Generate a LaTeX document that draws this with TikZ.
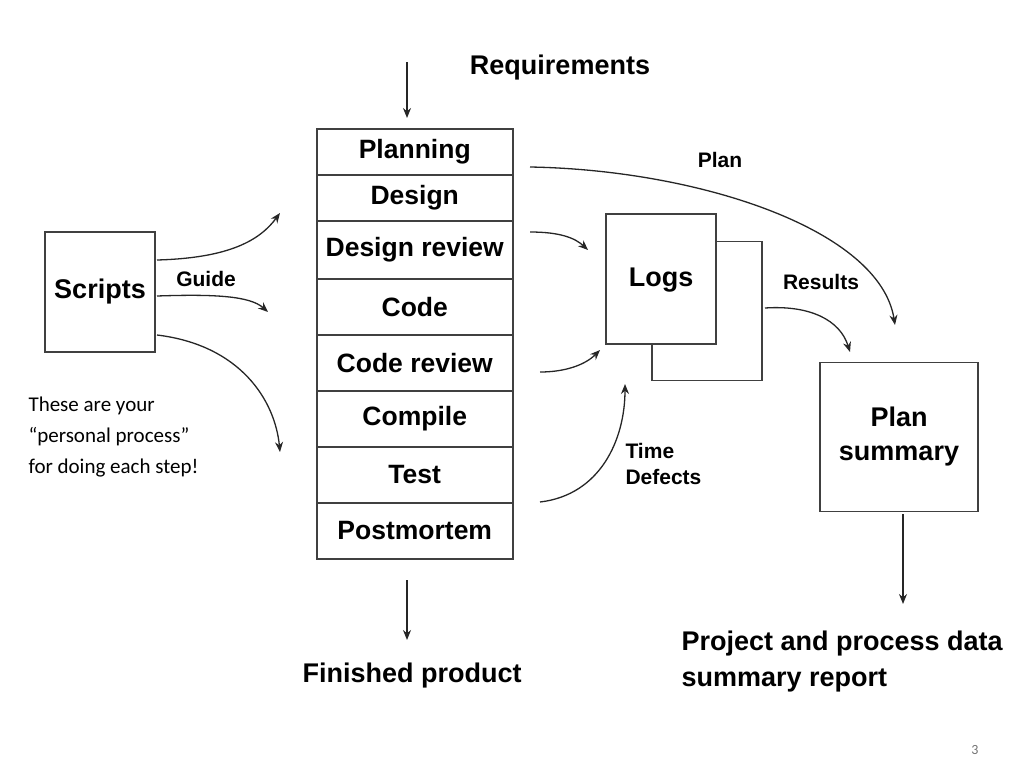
\documentclass[tikz,border=0pt]{standalone}
\usepackage{fontspec}
\setmainfont{Liberation Sans}
\newfontfamily\notefont{Carlito}
\usetikzlibrary{arrows.meta,positioning}
\tikzset{stage/.style={draw=black!75,line width=1.5pt,minimum width=196pt,inner sep=0pt,font=\fontsize{26.5}{28}\selectfont\bfseries},
         bigbox/.style={draw=black!75,line width=1.5pt,fill=white,inner sep=0pt,font=\fontsize{27}{34}\selectfont\bfseries,align=center},
         lbl/.style={font=\fontsize{27}{36}\selectfont\bfseries,align=left},
         small lbl/.style={font=\fontsize{21}{28}\selectfont\bfseries,align=left},
         flow/.style={-{Stealth[length=10pt,width=8pt]},line width=1.3pt,black!85},
}
\begin{document}
\begin{tikzpicture}[x=1pt,y=-1pt]
\useasboundingbox (0,0) rectangle (1024,768);
% the stack of steps
\node[stage,minimum height=46pt,anchor=north west] (plan) at (316,128) {Planning};
\node[stage,minimum height=46pt,below=-1.5pt of plan] (des) {Design};
\node[stage,minimum height=58pt,below=-1.5pt of des] (desrev) {Design review};
\node[stage,minimum height=56pt,below=-1.5pt of desrev] (code) {Code};
\node[stage,minimum height=56pt,below=-1.5pt of code] (coderev) {Code review};
\node[stage,minimum height=56pt,below=-1.5pt of coderev] (comp) {Compile};
\node[stage,minimum height=56pt,below=-1.5pt of comp] (test) {Test};
\node[stage,minimum height=56pt,below=-1.5pt of test] (pm) {Postmortem};
% boxes
\node[bigbox,minimum width=110pt,minimum height=120pt] (scripts) at (100,292) {Scripts};
\node[bigbox,minimum width=110pt,minimum height=139pt] (logsb) at (707,311) {};
\node[bigbox,minimum width=110pt,minimum height=130pt,anchor=north] (logs) at (661,213) {};
\node[font=\fontsize{27}{34}\selectfont\bfseries] (logst) at (661,280) {Logs};
\node[bigbox,minimum width=158pt,minimum height=149pt] (sum) at (899,437) {Plan\\summary};
% labels
\node[lbl] (req) at (560,68) {Requirements};
\node[lbl] (fin) at (412,676) {Finished product};
\node[lbl,anchor=west] (rep) at (678,662) {Project and process data\\summary report};
\node[small lbl] (plbl) at (720,160) {Plan};
\node[small lbl] (rlbl) at (821,282) {Results};
\node[small lbl] (glbl) at (206,279) {Guide};
\node[small lbl,anchor=west,font=\fontsize{21}{26}\selectfont\bfseries] (tlbl) at (622,464) {Time\\Defects};
\node[anchor=west,align=left,font=\notefont\fontsize{21}{31}\selectfont] (note) at (25,437) {These are your\\“personal process”\\for doing each step!};
\node[text=black!55,font=\notefont\fontsize{14}{16}\selectfont] (pg) at (975,750) {3};
% connector ends
\coordinate (reqtop) at (407,62);
\coordinate (reqend) at (407,118);
\coordinate (fintop) at (407,580);
\coordinate (finbot) at (407,640);
\coordinate (reptop) at (903,514);
\coordinate (repend) at (903,604);
\coordinate (a1) at (280,213);
\coordinate (a2) at (268,312);
\coordinate (a3) at (280,452);
\coordinate (b1) at (588,250);
\coordinate (b2) at (600,350);
\coordinate (b3) at (625,384);
\coordinate (c1) at (895,325);
\coordinate (c2) at (850,352);
% arrows
\draw[flow] (reqtop) -- (reqend);
\draw[flow] (fintop) -- (finbot);
\draw[flow] (reptop) -- (repend);
\draw[flow] (157,260) .. controls (230,258) and (260,240) .. (a1);
\draw[flow] (157,296) .. controls (215,294) and (250,296) .. (a2);
\draw[flow] (157,335) .. controls (240,345) and (275,400) .. (a3);
\draw[flow] (530,232) .. controls (560,232) and (575,238) .. (b1);
\draw[flow] (540,372) .. controls (565,372) and (585,365) .. (b2);
\draw[flow] (540,502) .. controls (600,495) and (625,440) .. (b3);
\draw[flow] (530,167) .. controls (700,170) and (880,230) .. (c1);
\draw[flow] (765,308) .. controls (810,305) and (840,320) .. (c2);
\end{tikzpicture}
\end{document}
